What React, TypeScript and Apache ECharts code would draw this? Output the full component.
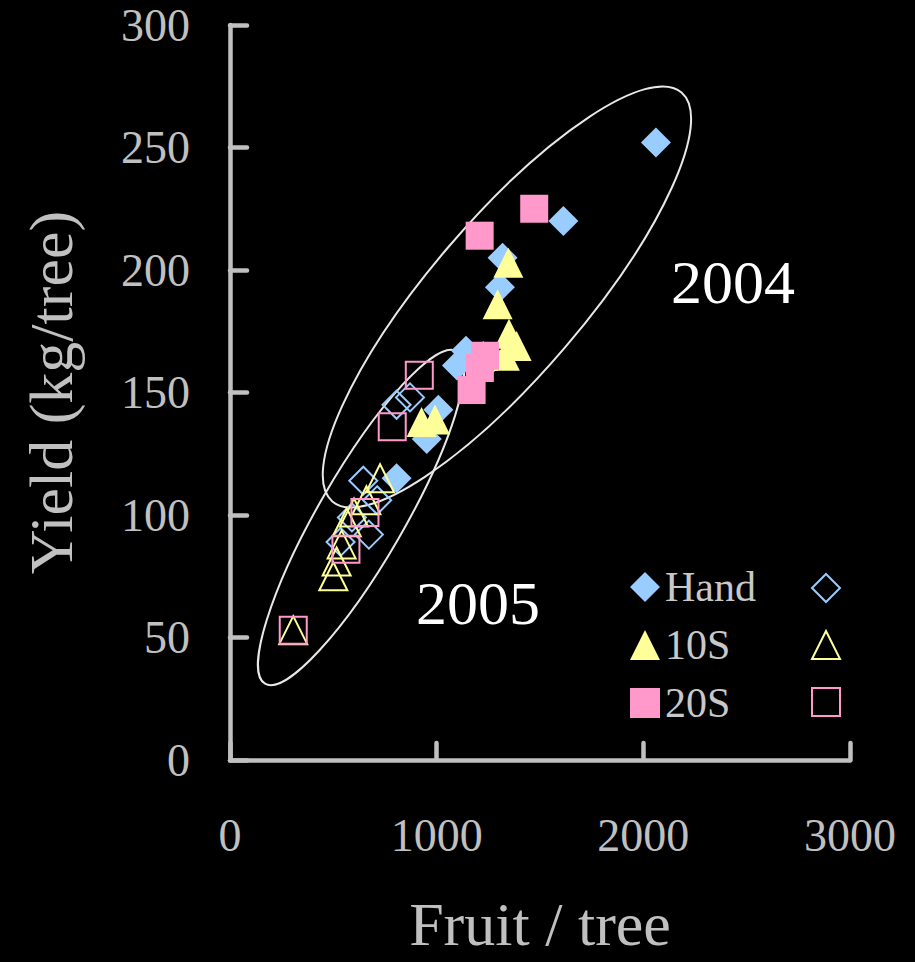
import React, { useEffect, useRef } from "react";
import * as echarts from "echarts";

// ---- Data ----
const xTicks = { min: 0, max: 3000, interval: 1000 };
const yTicks = { min: 0, max: 300, interval: 50 };

const legendNames = ["Hand", "10S", "20S"];

const hand2004: number[][] = [
  [2061, 252], [1613, 220], [1319, 205], [1306, 193], [1142, 167],
  [1098, 161], [1272, 164], [1008, 143], [952, 131], [806, 115],
];
const tenS2004: number[][] = [
  [1347, 203], [1295, 186], [1350, 174], [1387, 169], [1330, 165],
  [1225, 165], [927, 138], [992, 139],
];
const twentyS2004: number[][] = [
  [1472, 225], [1208, 214], [1234, 165], [1209, 160], [1169, 151],
];
const hand2005: number[][] = [
  [871, 148], [806, 145], [645, 114], [712, 106], [590, 99], [672, 92], [535, 89],
];
const tenS2005: number[][] = [
  [726, 115], [660, 106], [600, 101], [565, 97], [540, 88], [516, 81], [500, 75], [306, 53],
];
const twentyS2005: number[][] = [
  [916, 157], [785, 136], [653, 101], [561, 86], [306, 53],
];

// year annotations: [label, x, y] in data units
const yearLabels: [string, number, number][] = [
  ["2004", 2434, 195],
  ["2005", 1200, 64],
];
// ellipse centres in data units
const ellipseCenters: number[][] = [
  [1340, 189],
  [634, 99],
];

// ---- Styles ----
const FONT = '"Liberation Serif", "Times New Roman", serif';
const AXIS = "#c0c0c0";
const BLUE = "#99ccff";
const YELLOW = "#ffff99";
const PINK = "#ff99cc";
const ellipseShapes = [
  { rx: 269, ry: 77, angle: 49.5 },
  { rx: 192, ry: 43, angle: 60 },
];

function filled(name: string, data: number[][], symbol: string, color: string, size: number) {
  return {
    name,
    type: "scatter",
    data,
    symbol,
    symbolSize: size,
    itemStyle: { color, opacity: 1 },
    z: 3,
  };
}
function open(name: string, data: number[][], symbol: string, color: string, size: number) {
  return {
    name,
    type: "scatter",
    data,
    symbol,
    symbolSize: size,
    itemStyle: { color: "rgba(0,0,0,0)", borderColor: color, borderWidth: 2, opacity: 1 },
    z: 4,
  };
}

export default function App() {
  const ref = useRef<HTMLDivElement>(null);
  useEffect(() => {
    document.body.style.margin = "0";
    document.body.style.background = "#000";
    const chart = echarts.init(ref.current!, null, { renderer: "svg" });
    const axisCommon = {
      type: "value",
      axisLine: { show: true, lineStyle: { color: AXIS, width: 4.5, cap: "round" } },
      axisTick: { show: true, inside: true, length: 17, lineStyle: { color: AXIS, width: 4.5, cap: "round" } },
      splitLine: { show: false },
      axisLabel: { color: AXIS, fontSize: 46, fontFamily: FONT, formatter: (v: number) => String(v) },
      nameTextStyle: { color: AXIS, fontSize: 62, fontFamily: FONT },
    };
    chart.setOption({
      animation: false,
      backgroundColor: "#000",
      grid: {
        left: 230,
        right: 65,
        top: 25,
        bottom: 202,
        containLabel: false,
        outerBoundsMode: "none",
      },
      xAxis: {
        ...axisCommon,
        min: xTicks.min,
        max: xTicks.max,
        interval: xTicks.interval,
        name: "Fruit / tree",
        nameLocation: "middle",
        nameGap: 134,
        nameTextStyle: { ...axisCommon.nameTextStyle, lineHeight: 60 },
        axisLabel: { ...axisCommon.axisLabel, margin: 52 },
      },
      yAxis: {
        ...axisCommon,
        min: yTicks.min,
        max: yTicks.max,
        interval: yTicks.interval,
        name: "Yield (kg/tree)",
        nameLocation: "middle",
        nameGap: 148,
        axisLabel: { ...axisCommon.axisLabel, margin: 40 },
      },
      legend: [
        {
          data: legendNames,
          orient: "vertical",
          left: 630,
          top: 566,
          padding: 0,
          itemWidth: 30,
          itemHeight: 30,
          itemGap: 16,
          textStyle: { color: "#c8c8c8", fontSize: 42, fontFamily: FONT, lineHeight: 41 },
          selectedMode: false,
        },
        {
          data: legendNames.map((n) => n + " 2005"),
          orient: "vertical",
          left: 811,
          top: 573,
          padding: 0,
          itemWidth: 28,
          itemHeight: 28,
          itemGap: 27,
          formatter: () => "",
          textStyle: { color: AXIS, fontSize: 41, fontFamily: FONT },
          selectedMode: false,
        },
      ],
      series: [
        filled("Hand", hand2004, "diamond", BLUE, 30),
        filled("10S", tenS2004, "triangle", YELLOW, 30),
        filled("20S", twentyS2004, "rect", PINK, 28),
        open("Hand 2005", hand2005, "diamond", BLUE, 28),
        open("10S 2005", tenS2005, "triangle", YELLOW, 28),
        open("20S 2005", twentyS2005, "rect", PINK, 27),
      ],
    });

    const graphics: any[] = [];
    ellipseCenters.forEach((c, i) => {
      const p = chart.convertToPixel({ gridIndex: 0 }, c) as number[];
      const s = ellipseShapes[i];
      graphics.push({
        type: "ellipse",
        x: p[0],
        y: p[1],
        rotation: (s.angle * Math.PI) / 180,
        shape: { cx: 0, cy: 0, rx: s.rx, ry: s.ry },
        style: { fill: "none", stroke: "#e8e8e8", lineWidth: 2 },
        silent: true,
        z: 1,
      });
    });
    yearLabels.forEach(([t, x, y]) => {
      const p = chart.convertToPixel({ gridIndex: 0 }, [x, y]) as number[];
      graphics.push({
        type: "text",
        x: p[0],
        y: p[1],
        style: {
          text: t,
          fill: "#ffffff",
          fontSize: 62,
          fontFamily: FONT,
          align: "center",
          verticalAlign: "middle",
          textAlign: "center",
          textVerticalAlign: "middle",
        },
        silent: true,
        z: 5,
      });
    });
    chart.setOption({ graphic: graphics });

    return () => chart.dispose();
  }, []);
  return (
    <div
      ref={ref}
      style={{ position: "absolute", left: 0, top: 0, width: 915, height: 962, background: "#000" }}
    />
  );
}
